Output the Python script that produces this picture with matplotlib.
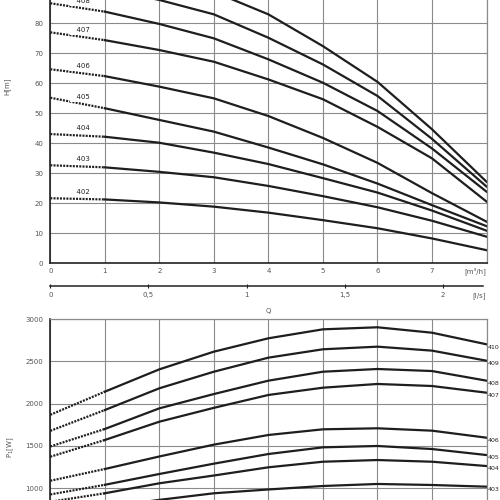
import numpy as np
import matplotlib
matplotlib.use("Agg")
import matplotlib.pyplot as plt
from matplotlib.transforms import blended_transform_factory

# flow rate in m3/h
Q = [0, 1, 2, 3, 4, 5, 6, 7, 8]

# head H [m] per pump type
h402 = [21.7, 21.3, 20.3, 18.9, 16.9, 14.4, 11.7, 8.3, 4.4]
h403 = [32.7, 32.0, 30.5, 28.7, 25.8, 22.4, 18.7, 14.2, 8.9]
h404 = [43.1, 42.2, 40.2, 36.9, 33.1, 28.4, 23.6, 17.6, 10.9]
h405 = [55.2, 51.7, 47.8, 43.9, 38.6, 33.0, 26.6, 19.4, 12.4]
h406 = [64.7, 62.4, 58.9, 55.0, 49.1, 41.8, 33.5, 23.4, 13.9]
h407 = [77.0, 74.4, 71.1, 67.2, 61.3, 54.7, 45.5, 35.0, 20.6]
h408 = [86.7, 83.9, 79.8, 75.0, 68.0, 60.2, 50.8, 38.3, 23.9]
h409 = [94.0, 91.5, 87.8, 83.0, 75.2, 66.3, 55.8, 41.5, 25.6]
h410 = [100.0, 98.0, 95.0, 90.5, 83.0, 72.4, 60.5, 44.7, 27.2]

# power P1 [W] per pump type
p403 = [680, 775, 862, 940, 985, 1026, 1050, 1038, 1018]
p404 = [840, 940, 1058, 1150, 1247, 1313, 1333, 1313, 1262]
p405 = [926, 1040, 1168, 1290, 1404, 1483, 1499, 1463, 1392]
p406 = [1088, 1227, 1375, 1515, 1629, 1696, 1708, 1680, 1597]
p407 = [1372, 1570, 1786, 1950, 2102, 2188, 2232, 2208, 2129]
p408 = [1493, 1700, 1944, 2113, 2271, 2377, 2409, 2385, 2271]
p409 = [1678, 1924, 2181, 2377, 2543, 2642, 2673, 2626, 2507]
p410 = [1868, 2141, 2405, 2614, 2772, 2878, 2902, 2838, 2701]

head = {"402": h402, "403": h403, "404": h404, "405": h405, "406": h406,
        "407": h407, "408": h408, "409": h409, "410": h410}
power = {"403": p403, "404": p404, "405": p405, "406": p406,
         "407": p407, "408": p408, "409": p409, "410": p410}

h_ticks = [0, 10, 20, 30, 40, 50, 60, 70, 80]
p_ticks = [1000, 1500, 2000, 2500, 3000]
ls_ticks = [0, 0.5, 1, 1.5, 2]
ls_labels = ["0", "0,5", "1", "1,5", "2"]

LINE = "#1e1e1e"
GRID = "#8a8a8a"
TXT = "#555555"
FS = 5

plt.rcParams["font.family"] = ["DejaVu Sans"]

fig = plt.figure(figsize=(5, 5), dpi=100)
ax_h = fig.add_axes([0.1006, 0.4733, 0.8724, 0.54])
ax_p = fig.add_axes([0.1006, -0.061, 0.8724, 0.423])
ax_q = fig.add_axes([0.1006, 0.4286, 0.8724, 0.001])


def style(ax):
    ax.set_xlim(0, 8)
    ax.set_xticks(Q)
    ax.grid(True, color=GRID, lw=0.8)
    ax.set_axisbelow(True)
    for s in ["left", "bottom"]:
        ax.spines[s].set_color("#222222")
        ax.spines[s].set_linewidth(1.2)
    for s in ["right", "top"]:
        ax.spines[s].set_color(GRID)
        ax.spines[s].set_linewidth(0.9)
    ax.tick_params(length=0, labelsize=FS, labelcolor=TXT, pad=5)


def draw(ax, vals):
    ax.plot(Q[:2], vals[:2], color=LINE, lw=1.6, ls=(0, (0.9, 0.55)),
            dash_capstyle="butt")
    ax.plot(Q[1:], vals[1:], color=LINE, lw=1.6)


# head chart
style(ax_h)
ax_h.set_ylim(0, 90)
ax_h.set_yticks(h_ticks)
ax_h.set_xticklabels([str(q) for q in Q[:-1]] + [""])
ax_h.tick_params(axis="x", pad=3.5)
for name, vals in head.items():
    draw(ax_h, vals)
    y = np.interp(0.6, Q, vals)
    ax_h.annotate(f"  {name}  ", xy=(0.6, y), xytext=(0, 5.2),
                  textcoords="offset points", ha="center", va="center",
                  fontsize=FS, color="#222222",
                  bbox=dict(fc="white", ec="none", pad=1.6))
tr = blended_transform_factory(ax_h.transData, ax_h.transAxes)
ax_h.text(8, -0.027, "[m³/h]", transform=tr, ha="right", va="center",
          fontsize=FS, color=TXT)
fig.text(0.008, 1 - 86 / 500, "H[m]", rotation=90, ha="left", va="center",
         fontsize=FS, color=TXT)

# l/s scale
ax_q.set_xlim(0, 8 / 3.6)
ax_q.set_yticks([])
ax_q.set_facecolor("none")
for s in ["left", "right", "top"]:
    ax_q.spines[s].set_visible(False)
ax_q.spines["bottom"].set_color("#222222")
ax_q.spines["bottom"].set_linewidth(1.1)
ax_q.spines["bottom"].set_bounds(0, 7.94 / 3.6)
ax_q.set_xticks(ls_ticks, labels=ls_labels)
ax_q.tick_params(axis="x", direction="inout", length=3, width=0.8,
                 color="#222222", labelsize=FS, labelcolor=TXT, pad=3)
fig.text(486 / 500, 1 - 295.5 / 500, "[l/s]", ha="right", va="center",
         fontsize=FS, color=TXT)
fig.text(268 / 500, 1 - 311 / 500, "Q", ha="center", va="center",
         fontsize=FS, color=TXT)

# power chart
style(ax_p)
ax_p.set_ylim(500, 3000)
ax_p.set_yticks(p_ticks)
ax_p.set_xticklabels([])
for name, vals in power.items():
    draw(ax_p, vals)
    ax_p.annotate(name, xy=(8, vals[-1]), xytext=(0.8, -2),
                  textcoords="offset points", ha="left", va="center",
                  fontsize=4.5, color="#222222", annotation_clip=False)
fig.text(0.012, 1 - 447 / 500, "P$_1$[W]", rotation=90, ha="left",
         va="center", fontsize=FS, color=TXT)

fig.savefig("out.png", dpi=100)
